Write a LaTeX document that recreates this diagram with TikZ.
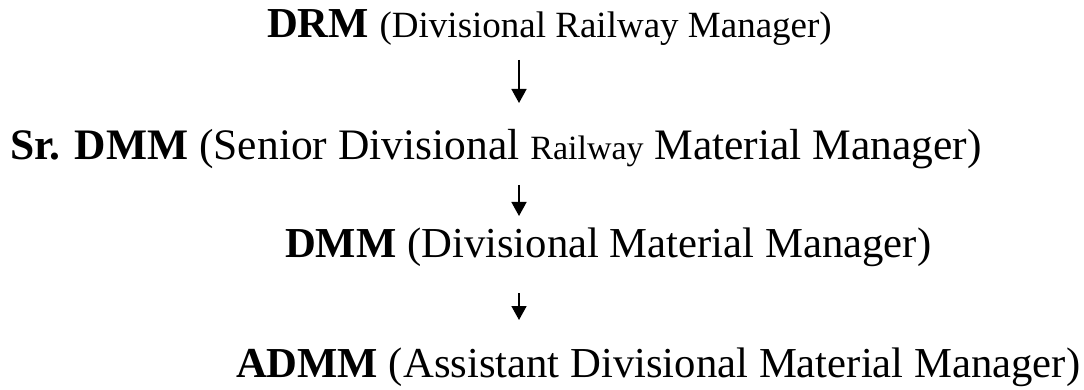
\documentclass[tikz,border=0pt]{standalone}
\usepackage{fontspec}
\setmainfont{Liberation Serif}
\usetikzlibrary{arrows.meta,calc}
\newcommand{\szmain}{\fontsize{42.7}{50}\selectfont}
\newcommand{\szsub}{\fontsize{37}{44}\selectfont}
\newcommand{\szsr}{\fontsize{43.5}{50}\selectfont}
\newcommand{\szrail}{\fontsize{34}{40}\selectfont}
\begin{document}
\begin{tikzpicture}[x=1pt,y=-1pt,
  lbl/.style={anchor=base west,inner sep=0pt,outer sep=0pt},
  arr/.style={line width=1.6pt,-{Triangle[length=14pt,width=15pt]}}]
\useasboundingbox (0,0) rectangle (1084,390);
\coordinate (ax) at (519,0);
\node[lbl] (drm) at (267,38) {\szmain\textbf{DRM} \szsub(Divisional Railway Manager)};
\node[lbl] (srdmm) at (10,160) {\szsr\textbf{Sr. DMM} (Senior Divisional {\szrail Railway} Material Manager)};
\node[lbl] (dmm) at (285,258) {\szmain\textbf{DMM} (Divisional Material Manager)};
\node[lbl] (admm) at (236,377) {\szmain\textbf{ADMM} (Assistant Divisional Material Manager)};
\draw[arr] ($(drm.base -| ax)+(0,22)$) -- ($(srdmm.base -| ax)+(0,-57)$);
\draw[arr] ($(srdmm.base -| ax)+(0,25)$) -- ($(dmm.base -| ax)+(0,-42)$);
\draw[arr] ($(dmm.base -| ax)+(0,35)$) -- ($(admm.base -| ax)+(0,-57)$);
\end{tikzpicture}
\end{document}
